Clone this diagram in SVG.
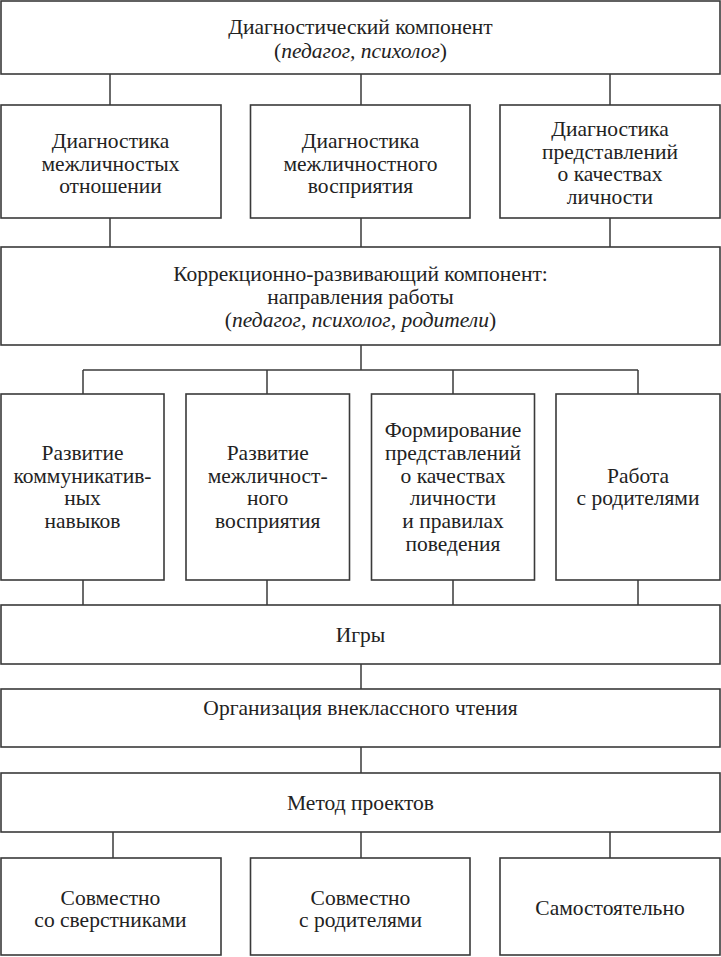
<svg xmlns="http://www.w3.org/2000/svg" width="721" height="957" viewBox="0 0 721 957">
<style>
rect{fill:#fff;stroke:#3a3a3a;stroke-width:1.6}
.c line{stroke:#3a3a3a;stroke-width:1.5}
text{font-family:"Liberation Serif","Times New Roman",serif;font-size:21.5px;fill:#222;text-anchor:middle}
.i{font-style:italic}
</style>
<rect x="0" y="0" width="721" height="957" style="fill:#fff;stroke:none"/>
<g class="c" id="connectors">
<line x1="110" y1="74" x2="110" y2="105"/>
<line x1="361" y1="74" x2="361" y2="105"/>
<line x1="610" y1="74" x2="610" y2="105"/>
<line x1="110" y1="218" x2="110" y2="247"/>
<line x1="361" y1="218" x2="361" y2="247"/>
<line x1="610" y1="218" x2="610" y2="247"/>
<line x1="361" y1="345" x2="361" y2="370"/>
<line x1="83" y1="370" x2="638" y2="370"/>
<line x1="83" y1="370" x2="83" y2="394"/>
<line x1="267" y1="370" x2="267" y2="394"/>
<line x1="453" y1="370" x2="453" y2="394"/>
<line x1="638" y1="370" x2="638" y2="394"/>
<line x1="83" y1="580" x2="83" y2="605"/>
<line x1="267" y1="580" x2="267" y2="605"/>
<line x1="453" y1="580" x2="453" y2="605"/>
<line x1="638" y1="580" x2="638" y2="605"/>
<line x1="361" y1="664" x2="361" y2="689"/>
<line x1="361" y1="747" x2="361" y2="773"/>
<line x1="113" y1="832" x2="113" y2="858"/>
<line x1="361" y1="832" x2="361" y2="858"/>
<line x1="610" y1="832" x2="610" y2="858"/>
</g>
<g id="diag"><rect x="1" y="1" width="719" height="73"/>
<text x="360.5" y="34">Диагностический компонент</text>
<text x="360.5" y="58">(<tspan class="i">педагог, психолог</tspan>)</text></g>
<g id="d1"><rect x="1" y="105" width="220" height="113"/>
<text x="110.5" y="148">Диагностика</text><text x="110.5" y="170.7">межличностых</text><text x="110.5" y="193.3">отношении</text></g>
<g id="d2"><rect x="250.5" y="105" width="219.5" height="113"/>
<text x="360.5" y="148">Диагностика</text><text x="360.5" y="170.7">межличностного</text><text x="360.5" y="193.3">восприятия</text></g>
<g id="d3"><rect x="500" y="105" width="220" height="113"/>
<text x="610" y="136">Диагностика</text><text x="610" y="158.7">представлений</text><text x="610" y="181.3">о качествах</text><text x="610" y="204">личности</text></g>
<g id="corr"><rect x="1" y="247" width="719" height="98"/>
<text x="360.5" y="280.5">Коррекционно-развивающий компонент:</text>
<text x="360.5" y="303.5">направления работы</text>
<text x="360.5" y="326.5">(<tspan class="i">педагог, психолог, родители</tspan>)</text></g>
<g id="r1"><rect x="1" y="394" width="163" height="186"/>
<text x="82.5" y="460">Развитие</text><text x="82.5" y="482.7">коммуникатив-</text><text x="82.5" y="505.3">ных</text><text x="82.5" y="528">навыков</text></g>
<g id="r2"><rect x="186" y="394" width="163.5" height="186"/>
<text x="267.7" y="460">Развитие</text><text x="267.7" y="482.7">межличност-</text><text x="267.7" y="505.3">ного</text><text x="267.7" y="528">восприятия</text></g>
<g id="r3"><rect x="371.5" y="394" width="163" height="186"/>
<text x="453" y="437.3">Формирование</text><text x="453" y="460">представлений</text><text x="453" y="482.7">о качествах</text><text x="453" y="505.3">личности</text><text x="453" y="528">и правилах</text><text x="453" y="550.7">поведения</text></g>
<g id="r4"><rect x="556" y="394" width="164" height="186"/>
<text x="638" y="482.7">Работа</text><text x="638" y="505.3">с родителями</text></g>
<g id="games"><rect x="1" y="605" width="719" height="59"/>
<text x="360.5" y="641.7">Игры</text></g>
<g id="read"><rect x="1" y="689" width="719" height="58"/>
<text x="360.5" y="715">Организация внеклассного чтения</text></g>
<g id="proj"><rect x="1" y="773" width="719" height="59"/>
<text x="360.5" y="810">Метод проектов</text></g>
<g id="b1"><rect x="1" y="858" width="220" height="97"/>
<text x="110.5" y="905">Совместно</text><text x="110.5" y="926.7">со сверстниками</text></g>
<g id="b2"><rect x="250.5" y="858" width="219.5" height="97"/>
<text x="360.5" y="905">Совместно</text><text x="360.5" y="926.7">с родителями</text></g>
<g id="b3"><rect x="500" y="858" width="220" height="97"/>
<text x="610" y="915">Самостоятельно</text></g>
</svg>
